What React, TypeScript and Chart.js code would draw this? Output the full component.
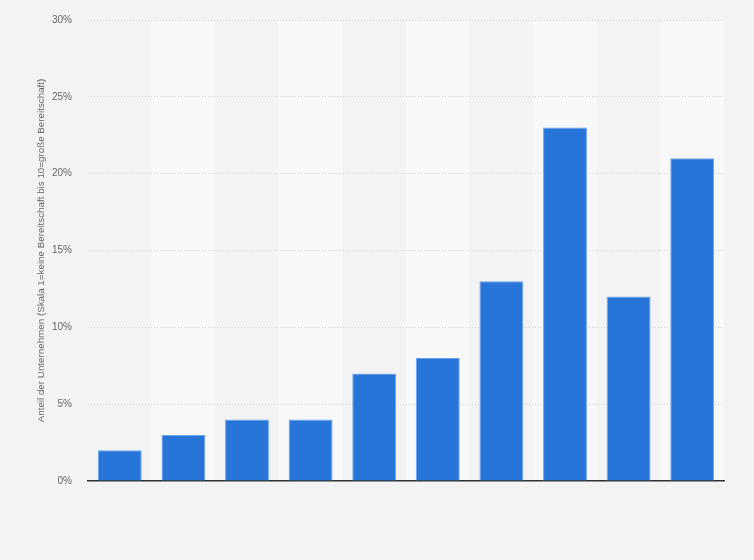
import { useEffect, useRef } from "react";
import { Chart, registerables } from "chart.js";

Chart.register(...registerables);

const categories = ["1", "2", "3", "4", "5", "6", "7", "8", "9", "10"];
const shares = [2, 3, 4, 4, 7, 8, 13, 23, 12, 21];
const yTitle = "Anteil der Unternehmen (Skala 1=keine Bereitschaft bis 10=große Bereitschaft)";

const FONT = "'Liberation Sans', Arial, Helvetica, sans-serif";

// light stripes behind every second category
const bandPlugin = {
  id: "bands",
  beforeDraw(chart: any) {
    const { ctx, chartArea, scales } = chart;
    const x = scales.x;
    const step = x.width / categories.length;
    ctx.save();
    ctx.fillStyle = "#f8f8f8";
    for (let i = 1; i < categories.length; i += 2) {
      const cx = x.getPixelForValue(i);
      ctx.fillRect(cx - step / 2, chartArea.top, step, chartArea.bottom - chartArea.top);
    }
    ctx.restore();
  },
};

export default function App() {
  const canvasRef = useRef<HTMLCanvasElement | null>(null);

  useEffect(() => {
    document.body.style.margin = "0";
    if (!canvasRef.current) return;
    const ctx = canvasRef.current.getContext("2d");
    if (!ctx) return;

    const chart = new Chart(ctx, {
      type: "bar",
      data: {
        labels: categories,
        datasets: [
          {
            data: shares,
            backgroundColor: "#2775d9",
            borderColor: "#6aa3ea",
            borderWidth: { top: 1, left: 1, right: 1, bottom: 0 },
            barPercentage: 0.69,
            categoryPercentage: 1,
          },
        ],
      },
      options: {
        animation: false,
        responsive: true,
        maintainAspectRatio: false,
        layout: { padding: { top: 20, right: 30, bottom: 79, left: 31 } },
        plugins: {
          legend: { display: false },
          tooltip: { enabled: false },
        },
        scales: {
          x: {
            ticks: { display: false },
            grid: { display: false, drawTicks: false },
            border: { display: true, color: "#333333", width: 1.5 },
          },
          y: {
            min: 0,
            max: 30,
            ticks: {
              stepSize: 5,
              padding: 16,
              color: "#666666",
              font: { family: FONT, size: 10 },
              callback: (v: any) => v + "%",
            },
            grid: { color: "#d6d6d6", drawTicks: false, lineWidth: 1 },
            border: { display: false, dash: [1, 2] },
            title: {
              display: true,
              text: yTitle,
              color: "#666666",
              font: { family: FONT, size: 9.8 },
              padding: { top: 4, bottom: 0 },
            },
            afterFit: (scale: any) => {
              scale.width = 57;
              scale.paddingTop = 0;
              scale.paddingBottom = 0;
            },
          },
        },
      },
      plugins: [bandPlugin],
    });

    return () => {
      chart.destroy();
    };
  }, []);

  return (
    <div style={{ width: 754, height: 560, background: "#f3f3f3", position: "relative" }}>
      <canvas ref={canvasRef}></canvas>
    </div>
  );
}
